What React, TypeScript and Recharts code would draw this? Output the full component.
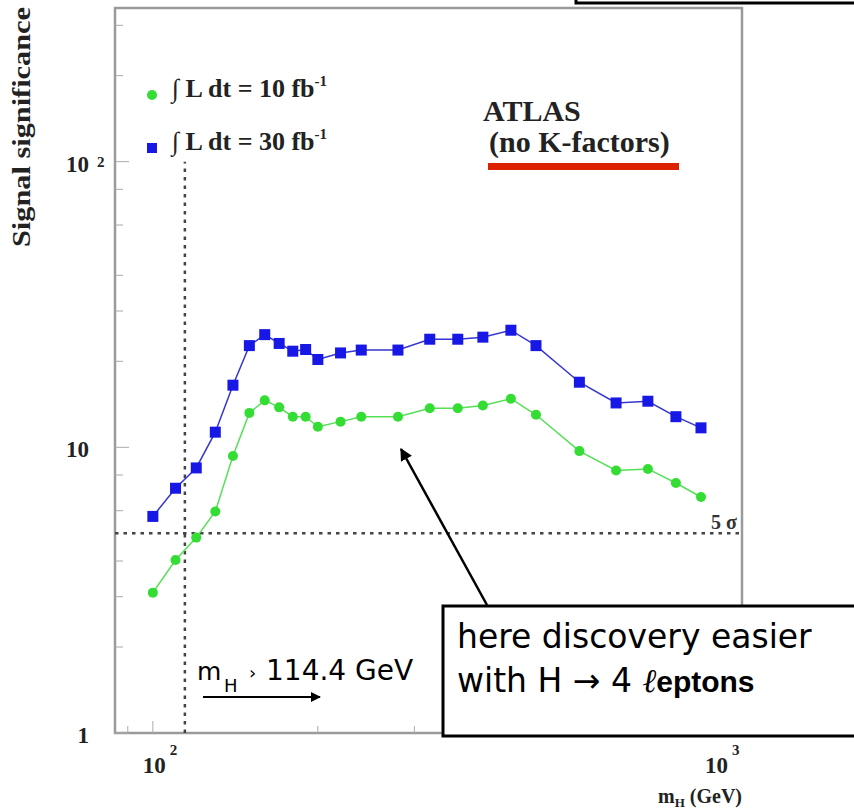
import React from "react";
import {
  ComposedChart,
  Line,
  XAxis,
  YAxis,
  ReferenceLine,
  ReferenceArea,
  Legend,
} from "recharts";

// Higgs mass points (GeV)
const masses = [
  100, 110, 120, 130, 140, 150, 160, 170, 180, 190, 200, 220, 240, 280, 320,
  360, 400, 450, 500, 600, 700, 800, 900, 1000,
];
// signal significance, 10 fb-1
const signif10 = [
  3.1, 4.03, 4.83, 5.96, 9.32, 13.2, 14.6, 13.8, 12.8, 12.8, 11.8, 12.3, 12.8,
  12.8, 13.7, 13.7, 14.0, 14.8, 13.0, 9.7, 8.3, 8.4, 7.5, 6.7,
];
// signal significance, 30 fb-1
const signif30 = [
  5.73, 7.19, 8.47, 11.3, 16.5, 22.7, 24.8, 23.1, 21.7, 22.0, 20.3, 21.4, 21.9,
  21.9, 23.9, 23.9, 24.3, 25.7, 22.7, 16.9, 14.3, 14.5, 12.8, 11.7,
];

const xTicks = [90, 100, 200, 300, 400, 500, 600, 700, 800, 900, 1000];
const yTicks = [
  1, 2, 3, 4, 5, 6, 7, 8, 9, 10, 20, 30, 40, 50, 60, 70, 80, 90, 100, 200, 300,
];
const xDomain = [85.3, 1188];
const yDomain = [1, 345];
const lepLimit = 114.4;
const fiveSigma = 5;

const legendLabels = ["∫ L dt = 10 fb", "∫ L dt = 30 fb"];

const GREEN = "#33dd33";
const GREEN_LINE = "#55e055";
const BLUE = "#1818e6";
const BLUE_LINE = "#3535d0";
const SERIF = "'Liberation Serif', 'Times New Roman', serif";
const HAND = "'DejaVu Sans', sans-serif";

const data = masses.map((m, i) => ({ m, s10: signif10[i], s30: signif30[i] }));

const XTick = ({ x, y, payload }: any) => {
  const v = payload.value;
  const major = v === 100 || v === 1000;
  return (
    <g>
      <line x1={x} x2={x} y1={y} y2={y - (major ? 12 : 7)} stroke="#aaa" />
      {major && (
        <g fontFamily={SERIF} fontWeight="bold" fill="#222">
          <text x={x + (v === 100 ? -10 : 4)} y={y + 40} fontSize={23}>
            10
          </text>
          <text x={x + (v === 100 ? 17 : 31)} y={y + 22} fontSize={15}>
            {v === 100 ? "2" : "3"}
          </text>
        </g>
      )}
    </g>
  );
};

const YTick = ({ x, y, payload }: any) => {
  const v = payload.value;
  const major = v === 1 || v === 10 || v === 100;
  return (
    <g>
      <line x1={x} x2={x + (major ? 14 : 8)} y1={y} y2={y} stroke="#aaa" />
      {major && (
        <g fontFamily={SERIF} fontWeight="bold" fill="#222">
          <text x={x - 26} y={y + 10} fontSize={23} textAnchor="end">
            {v === 1 ? "1" : "10"}
          </text>
          {v === 100 && (
            <text x={x - 18} y={y + 5} fontSize={15}>
              2
            </text>
          )}
        </g>
      )}
    </g>
  );
};

const LegendBox = () => (
  <svg width={240} height={100}>
    <circle cx={12} cy={23} r={5} fill={GREEN} />
    <rect x={7} y={71} width={10} height={10} fill={BLUE} />
    {legendLabels.map((t, i) => (
      <text
        key={t}
        x={32}
        y={25 + i * 53}
        fontFamily={SERIF}
        fontWeight="bold"
        fontSize={26}
        fill="#222"
      >
        {t}
        <tspan dy={-11} fontSize={15}>
          -1
        </tspan>
      </text>
    ))}
  </svg>
);

export default function App() {
  return (
    <div
      style={{
        position: "absolute",
        left: 0,
        top: 0,
        width: 854,
        height: 812,
        background: "#fff",
      }}
    >
      <ComposedChart
        width={854}
        height={812}
        data={data}
        margin={{ top: 8, right: 112, left: 55, bottom: 49 }}
      >
        <XAxis
          dataKey="m"
          type="number"
          scale="log"
          domain={xDomain}
          allowDataOverflow
          ticks={xTicks}
          tick={<XTick />}
          tickLine={false}
          axisLine={false}
          tickSize={0}
          tickMargin={0}
          height={30}
        />
        <YAxis
          type="number"
          scale="log"
          domain={yDomain}
          allowDataOverflow
          ticks={yTicks}
          tick={<YTick />}
          tickLine={false}
          axisLine={false}
          tickSize={0}
          tickMargin={0}
          width={60}
        />
        <ReferenceArea
          x1={xDomain[0]}
          x2={xDomain[1]}
          y1={yDomain[0]}
          y2={yDomain[1]}
          fill="none"
          stroke="#9a9a9a"
          strokeWidth={2.5}
        />
        <ReferenceLine
          y={fiveSigma}
          stroke="#444"
          strokeWidth={2.5}
          strokeDasharray="3.5 5"
        />
        <ReferenceLine
          segment={[
            { x: lepLimit, y: 1 },
            { x: lepLimit, y: 100 },
          ]}
          stroke="#444"
          strokeWidth={2.5}
          strokeDasharray="3.5 5"
        />
        <Line
          dataKey="s10"
          stroke={GREEN_LINE}
          strokeWidth={1.5}
          isAnimationActive={false}
          dot={(p: any) => (
            <circle key={`g${p.index}`} cx={p.cx} cy={p.cy} r={5} fill={GREEN} />
          )}
        />
        <Line
          dataKey="s30"
          stroke={BLUE_LINE}
          strokeWidth={1.5}
          isAnimationActive={false}
          dot={(p: any) => (
            <rect
              key={`b${p.index}`}
              x={p.cx - 5.5}
              y={p.cy - 5.5}
              width={11}
              height={11}
              fill={BLUE}
            />
          )}
        />
        <Legend
          layout="vertical"
          align="center"
          verticalAlign="middle"
          wrapperStyle={{ left: 140, top: 72, width: 240, height: 100 }}
          content={() => <LegendBox />}
        />
      </ComposedChart>

      {/* annotations */}
      <svg
        width={854}
        height={812}
        style={{ position: "absolute", left: 0, top: 0, pointerEvents: "none" }}
      >
        <defs>
          <marker
            id="head"
            viewBox="0 0 10 10"
            refX={9}
            refY={5}
            markerWidth={5}
            markerHeight={5}
            orient="auto"
          >
            <path d="M0,0 L10,5 L0,10 z" fill="#000" />
          </marker>
        </defs>
        <rect x={576} y={-10} width={300} height={13} fill="none" stroke="#000" strokeWidth={3} />

        <text
          transform="translate(30,7) rotate(-90)"
          textAnchor="end"
          fontFamily={SERIF}
          fontWeight="bold"
          fontSize={25}
          fill="#222"
          textLength={240}
          lengthAdjust="spacingAndGlyphs"
        >
          Signal significance
        </text>
        <text x={742} y={803} textAnchor="end" fontFamily={SERIF} fontWeight="bold" fontSize={20} fill="#222">
          m
          <tspan fontSize={13} dy={4}>H</tspan>
          <tspan dy={-4}> (GeV)</tspan>
        </text>

        <g fontFamily={SERIF} fontWeight="bold" fill="#222" fontSize={30}>
          <text x={483} y={121}>ATLAS</text>
          <text x={489} y={152}>(no K-factors)</text>
        </g>
        <rect x={488} y={163} width={191} height={7} fill="#dd2200" />

        <text x={737} y={529} textAnchor="end" fontFamily={SERIF} fontWeight="bold" fontSize={20} fill="#333">
          5 σ
        </text>

        <g fontFamily={HAND} fill="#000">
          <text x={197} y={680} fontSize={25}>m</text>
          <text x={224} y={692} fontSize={18}>H</text>
          <text x={249} y={679} fontSize={18}>›</text>
          <text x={266} y={680} fontSize={28}>114.4 GeV</text>
        </g>
        <line x1={203} y1={697} x2={320} y2={697} stroke="#000" strokeWidth={2} markerEnd="url(#head)" />

        <line x1={487} y1={605} x2={401} y2={449} stroke="#000" strokeWidth={2.5} markerEnd="url(#head)" />

        <rect x={443} y={606} width={430} height={130} fill="#fff" stroke="#000" strokeWidth={3} />
        <text x={457} y={648} fontFamily={HAND} fontSize={33} fill="#000">
          here discovery easier
        </text>
        <text x={457} y={692} fontFamily={HAND} fontSize={33} fill="#000">
          with H → 4{" "}
          <tspan fontFamily={SERIF} fontStyle="italic">ℓ</tspan>
          <tspan fontFamily="'Liberation Sans', sans-serif" fontWeight="bold" fontSize={30}>
            eptons
          </tspan>
        </text>
      </svg>
    </div>
  );
}
